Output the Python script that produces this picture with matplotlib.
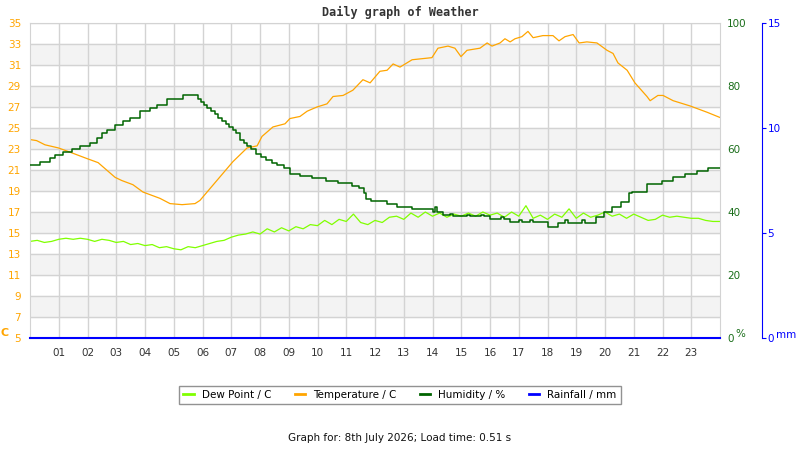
import matplotlib
matplotlib.use('Agg')
import matplotlib.pyplot as plt

# temperature (hours, deg C)
temp_h = [0.00, 0.23, 0.52, 0.99, 1.39, 1.97, 2.37, 2.96, 3.19, 3.58, 3.93, 4.52, 4.87, 5.29,
          5.74, 5.91, 6.50, 7.06, 7.55, 7.90, 8.07, 8.45, 8.87, 9.04, 9.39, 9.64, 9.98, 10.33,
          10.54, 10.89, 11.23, 11.58, 11.83, 12.17, 12.42, 12.63, 12.87, 13.29, 13.98, 14.19,
          14.54, 14.78, 14.99, 15.20, 15.65, 15.90, 16.07, 16.35, 16.52, 16.70, 16.87, 17.11,
          17.32, 17.50, 17.84, 18.19, 18.40, 18.61, 18.89, 19.10, 19.37, 19.72, 20.07, 20.28,
          20.45, 20.77, 21.04, 21.46, 21.57, 21.84, 22.02, 22.37, 22.96, 23.55, 24.00]
temp_c = [23.9, 23.8, 23.4, 23.1, 22.7, 22.1, 21.7, 20.3, 20.0, 19.6, 18.9, 18.3, 17.8, 17.7,
          17.8, 18.1, 20.0, 21.8, 23.1, 23.3, 24.2, 25.1, 25.4, 25.9, 26.1, 26.6, 27.0, 27.3,
          28.0, 28.1, 28.6, 29.6, 29.3, 30.4, 30.5, 31.1, 30.8, 31.5, 31.7, 32.6,
          32.8, 32.6, 31.8, 32.4, 32.6, 33.1, 32.8, 33.1, 33.5, 33.2, 33.5, 33.7,
          34.2, 33.6, 33.8, 33.8, 33.3, 33.7, 33.9, 33.1, 33.2, 33.1, 32.4, 32.1,
          31.2, 30.5, 29.3, 28.0, 27.6, 28.1, 28.1, 27.6, 27.1, 26.5, 26.0]

# dew point every 15 minutes (deg C)
dew_c = [14.2, 14.3, 14.1, 14.2, 14.4, 14.5, 14.4, 14.5, 14.4, 14.2, 14.4, 14.3,
         14.1, 14.2, 13.9, 14.0, 13.8, 13.9, 13.6, 13.7, 13.5, 13.4, 13.7, 13.6,
         13.8, 14.0, 14.2, 14.3, 14.6, 14.8, 14.9, 15.1, 14.9, 15.4, 15.1, 15.5,
         15.2, 15.6, 15.4, 15.8, 15.7, 16.2, 15.8, 16.3, 16.1, 16.8, 16.0, 15.8,
         16.2, 16.0, 16.5, 16.6, 16.3, 16.9, 16.5, 17.0, 16.6, 16.9, 16.5, 16.8,
         16.6, 16.9, 16.6, 17.0, 16.7, 16.9, 16.5, 17.0, 16.6, 17.6, 16.4, 16.7,
         16.3, 16.8, 16.5, 17.3, 16.4, 16.9, 16.5, 16.7, 17.0, 16.6, 16.8, 16.4,
         16.8, 16.5, 16.2, 16.3, 16.7, 16.5, 16.6, 16.5, 16.4, 16.4, 16.2, 16.1, 16.1]
dew_h = [i * 0.25 for i in range(len(dew_c))]

# humidity steps (hour the step starts, %)
hum_h = [0.00, 0.35, 0.70, 0.87, 1.15, 1.46, 1.74, 2.09, 2.33, 2.50, 2.68, 2.96, 3.23, 3.48,
         3.83, 4.17, 4.42, 4.77, 5.32, 5.84, 5.95, 6.05, 6.17, 6.30, 6.42, 6.55, 6.68, 6.80,
         6.93, 7.05, 7.18, 7.30, 7.43, 7.55, 7.68, 7.85, 8.05, 8.20, 8.40, 8.60, 8.85, 9.05,
         9.40, 9.80, 10.30, 10.70, 11.20, 11.45, 11.60, 11.70, 11.85, 12.40, 12.75, 13.30,
         14.00, 14.10, 14.15, 14.35, 14.60, 14.70, 15.20, 15.30, 15.70, 15.80, 16.00, 16.40,
         16.50, 16.70, 17.00, 17.10, 17.40, 17.50, 18.00, 18.35, 18.60, 18.70, 19.00, 19.20,
         19.30, 19.70, 19.98, 20.25, 20.55, 20.85, 20.95, 21.45, 21.98, 22.37, 22.79, 23.20,
         23.58, 24.00]
hum_pc = [55, 56, 57, 58, 59, 60, 61, 62, 63.5, 65, 66, 67.5, 69, 70,
          72, 73, 74, 76, 77, 76, 75, 74, 73, 72, 71, 70, 69, 68,
          67, 66, 65, 63, 62, 61, 60, 58.5, 57.5, 56.5, 55.5, 55, 54, 52,
          51.5, 50.7, 50, 49.3, 48.3, 47.5, 46, 44.2, 43.6, 42.5, 41.7, 41,
          40, 41.5, 40, 39, 39.5, 38.8, 39.2, 38.8, 39.2, 38.8, 37.7, 38.3,
          37.7, 36.8, 37.5, 36.8, 37.5, 36.8, 35.3, 36.6, 37.5, 36.6, 36.4, 37.4,
          36.4, 38.5, 40, 41.5, 43.3, 46, 46.4, 49, 50, 51, 52, 53,
          54, 54]

# rainfall (mm)
rain_h = [0, 6, 12, 18, 24]
rain_mm = [0, 0, 0, 0, 0]

hours = list(range(1, 24))
hour_labels = ['%02d' % h for h in hours]

fig = plt.figure(figsize=(8, 4.5), dpi=100)
ax = fig.add_axes([30 / 800, 112 / 450, 690 / 800, 315 / 450])
ax.set_xlim(0, 24)
ax.set_ylim(5, 35)
for lo in (7, 11, 15, 19, 23, 27, 31):
    ax.axhspan(lo, lo + 2, color='#f3f3f3', zorder=0)
ax.set_yticks(range(5, 36, 2))
ax.set_xticks(hours)
ax.set_xticklabels(hour_labels)
ax.grid(color='#d3d3d3', lw=1)
ax.set_axisbelow(True)
for s in ax.spines.values():
    s.set_color('#d3d3d3')
ax.tick_params(axis='y', length=0, colors='#ffa500', labelsize=7.5, pad=6.5)
ax.tick_params(axis='x', length=0, colors='#333333', labelsize=7.5, pad=7)

l1, = ax.plot(dew_h, dew_c, color='#80ff00', lw=0.9, label='Dew Point / C')
l2, = ax.plot(temp_h, temp_c, color='#ffa500', lw=0.9, label='Temperature / C')

ax2 = ax.twinx()
ax2.set_ylim(0, 100)
ax2.set_yticks(range(0, 101, 20))
ax2.tick_params(axis='y', length=0, colors='#1a6e1a', labelsize=7.5, pad=5)
for s in ax2.spines.values():
    s.set_visible(False)
l3, = ax2.plot(hum_h, hum_pc, color='#006400', lw=1.1, drawstyle='steps-post',
               label='Humidity / %')

ax3 = ax.twinx()
ax3.set_ylim(0, 15)
ax3.set_yticks([0, 5, 10, 15])
for k in ('left', 'top', 'bottom'):
    ax3.spines[k].set_visible(False)
ax3.spines['right'].set_position(('axes', 732 / 690))
ax3.spines['right'].set_color('#0000ff')
ax3.tick_params(axis='y', length=3, colors='#0000ff', labelsize=7.5, pad=1)
l4, = ax3.plot(rain_h, rain_mm, color='#0000ff', lw=1.5, clip_on=False, label='Rainfall / mm')

fig.text(400 / 800, 1 - 12 / 450, 'Daily graph of Weather', ha='center', va='center',
         family='DejaVu Sans Mono', weight='bold', size=8.5, color='#333333')
fig.text(5 / 800, 1 - 333 / 450, 'C', ha='center', va='center', color='#ffa500',
         size=8, weight='bold')
fig.text(740 / 800, 1 - 334 / 450, '%', ha='center', va='center', color='#1a6e1a', size=7.5)
fig.text(786 / 800, 1 - 335 / 450, 'mm', ha='center', va='center', color='#0000ff', size=7.5)

leg = fig.legend(handles=[l1, l2, l3, l4], loc='center', bbox_to_anchor=(0.5, 1 - 395 / 450),
                 ncol=4, fontsize=7.5, fancybox=False, edgecolor='#777777', handlelength=1.0,
                 columnspacing=2.2, borderpad=0.4)
for h in leg.get_lines():
    h.set_linewidth(2)

fig.text(0.5, 1 - 438 / 450, 'Graph for: 8th July 2026; Load time: 0.51 s', ha='center',
         va='center', size=7.5, color='#111111')

fig.savefig('out.png', dpi=100)
